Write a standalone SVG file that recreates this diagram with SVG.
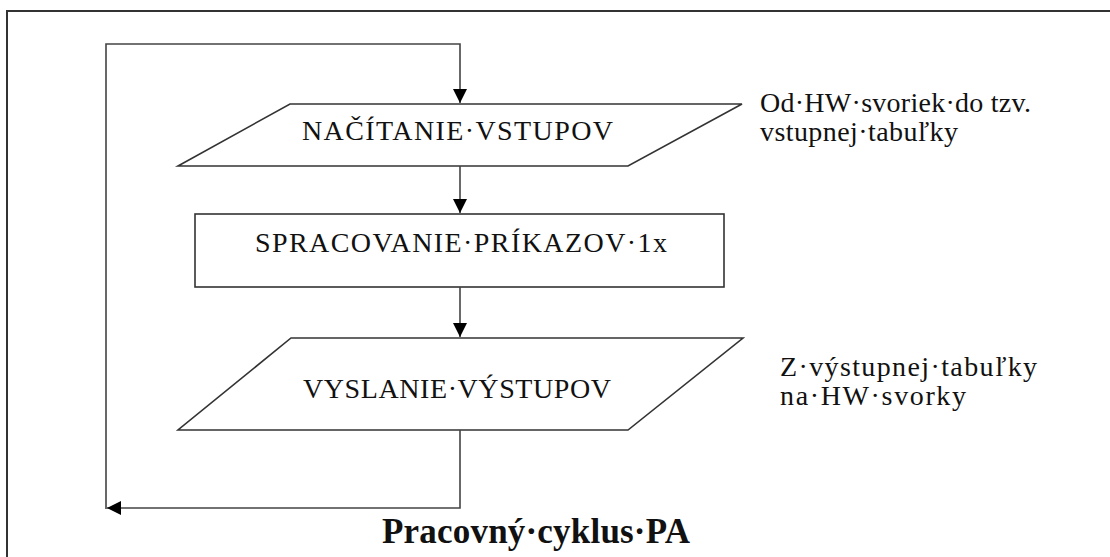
<svg xmlns="http://www.w3.org/2000/svg" width="1110" height="557" viewBox="0 0 1110 557">
  <style>
    .shape { fill: #ffffff; stroke: #333333; stroke-width: 1.6; }
    .flow { fill: none; stroke: #444444; stroke-width: 1.6; }
    .frame { fill: none; stroke: #333333; stroke-width: 2; }
    .label { font-family: "Liberation Serif", "Times New Roman", serif; font-size: 28px; fill: #111111; }
    .note { font-family: "Liberation Serif", "Times New Roman", serif; font-size: 28px; fill: #111111; }
    .title { font-family: "Liberation Serif", "Times New Roman", serif; font-size: 35px; font-weight: bold; fill: #111111; }
  </style>
  <defs>
    <marker id="arrow" markerUnits="userSpaceOnUse" markerWidth="14" markerHeight="14" viewBox="0 0 14 14" refX="14" refY="7" orient="auto">
      <path d="M0,0 L14,7 L0,14 Z" fill="#000000"/>
    </marker>
  </defs>

  <rect x="0" y="0" width="1110" height="557" fill="#ffffff"/>

  <!-- page frame -->
  <path class="frame" d="M7,557 V11 H1110"/>

  <!-- read inputs -->
  <g id="node-read">
    <polygon class="shape" points="290,104 742,104 628,166 178,166"/>
    <text class="label" x="302" y="140" textLength="311" lengthAdjust="spacing">NAČÍTANIE·VSTUPOV</text>
  </g>

  <!-- process instructions -->
  <g id="node-process">
    <rect class="shape" x="195" y="214" width="529" height="73"/>
    <text class="label" x="255" y="252" textLength="412" lengthAdjust="spacing">SPRACOVANIE·PRÍKAZOV·1x</text>
  </g>

  <!-- write outputs -->
  <g id="node-write">
    <polygon class="shape" points="291,338 743,338 628,430 178,430"/>
    <text class="label" x="303" y="398" textLength="308" lengthAdjust="spacing">VYSLANIE·VÝSTUPOV</text>
  </g>

  <!-- side notes -->
  <g id="note-inputs">
    <text class="note" x="760" y="112" textLength="271" lengthAdjust="spacing">Od·HW·svoriek·do tzv.</text>
    <text class="note" x="760" y="141" textLength="198" lengthAdjust="spacing">vstupnej·tabuľky</text>
  </g>
  <g id="note-outputs">
    <text class="note" x="780" y="376" textLength="257" lengthAdjust="spacing">Z·výstupnej·tabuľky</text>
    <text class="note" x="780" y="405" textLength="186" lengthAdjust="spacing">na·HW·svorky</text>
  </g>

  <!-- title -->
  <g id="title">
    <text class="title" x="382" y="543" textLength="308" lengthAdjust="spacing">Pracovný·cyklus·PA</text>
  </g>

  <!-- connectors -->
  <g id="connectors">
    <path class="flow" d="M106,509 V44 H460 V103" marker-end="url(#arrow)"/>
    <path class="flow" d="M460,166 V213" marker-end="url(#arrow)"/>
    <path class="flow" d="M460,287 V337" marker-end="url(#arrow)"/>
    <path class="flow" d="M460,430 V508 H107" marker-end="url(#arrow)"/>
  </g>
</svg>
